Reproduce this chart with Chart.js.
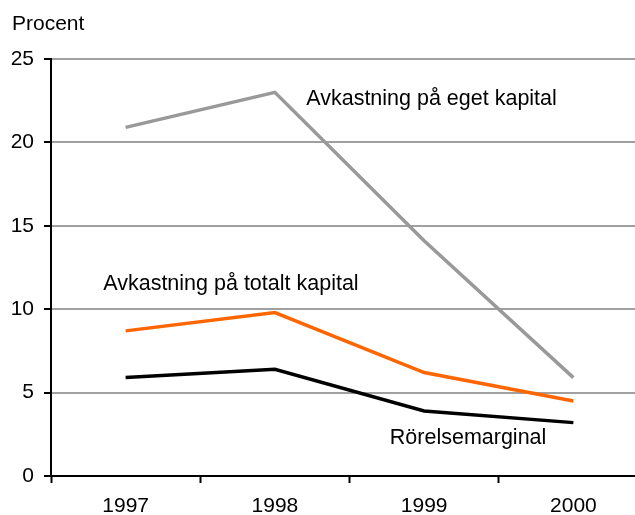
<!DOCTYPE html>
<html>
<head>
<meta charset="utf-8">
<script src="https://cdn.jsdelivr.net/npm/chart.js@4"></script>
<style>
  html, body { margin: 0; padding: 0; background: #fff; overflow: hidden; }
</style>
</head>
<body>
<canvas id="graphique" width="648" height="515"></canvas>
<script>
var ar = ['1997', '1998', '1999', '2000'];
var egetKapital = [20.9, 23.0, 14.1, 5.9];
var totaltKapital = [8.7, 9.8, 6.2, 4.5];
var rorelsemarginal = [5.9, 6.4, 3.9, 3.2];
var yTicks = [0, 5, 10, 15, 20, 25];

var FONT = '"Liberation Sans", Arial, sans-serif';

// text labels placed in data coordinates
var etiketter = [
    { text: 'Avkastning på eget kapital', x: 1.21, y: 22.6 },
    { text: 'Avkastning på totalt kapital', x: -0.15, y: 11.5 },
    { text: 'Rörelsemarginal', x: 1.77, y: 2.3 }
];

var textPlugin = {
    id: 'textPlugin',
    afterDraw: function(chart) {
        var ctx = chart.ctx;
        var xs = chart.scales.x, ys = chart.scales.y;
        ctx.save();
        ctx.fillStyle = '#000';
        ctx.font = '21.5px ' + FONT;
        ctx.textBaseline = 'middle';
        ctx.textAlign = 'left';
        etiketter.forEach(function(e) {
            ctx.fillText(e.text, xs.getPixelForValue(e.x), ys.getPixelForValue(e.y));
        });
        ctx.font = '21px ' + FONT;
        ctx.fillText('Procent', 12, chart.chartArea.top - 35);
        ctx.restore();
    }
};

document.addEventListener('DOMContentLoaded', function() {
    var ctx = document.getElementById('graphique').getContext('2d');
    new Chart(ctx, {
        type: 'line',
        data: {
            labels: ar,
            datasets: [
                { data: egetKapital, borderColor: '#999999', borderWidth: 3.5 },
                { data: totaltKapital, borderColor: '#ff6600', borderWidth: 3.5 },
                { data: rorelsemarginal, borderColor: '#000000', borderWidth: 3.5 }
            ]
        },
        options: {
            responsive: false,
            animation: false,
            devicePixelRatio: 1,
            layout: { padding: { top: 59, right: 0, left: 0, bottom: 0 } },
            elements: { point: { radius: 0 }, line: { tension: 0 } },
            plugins: { legend: { display: false }, tooltip: { enabled: false } },
            scales: {
                x: {
                    offset: true,
                    grid: { offset: true, drawOnChartArea: false, tickLength: 7, tickColor: '#000', tickWidth: 2 },
                    border: { color: '#000', width: 2 },
                    ticks: { color: '#000', font: { family: FONT, size: 21 }, padding: 11, maxRotation: 0 },
                    afterFit: function(s) { s.height = 39; }
                },
                y: {
                    min: 0,
                    max: 25,
                    afterBuildTicks: function(s) { s.ticks = yTicks.map(function(v) { return { value: v }; }); },
                    grid: { color: '#a0a0a0', lineWidth: 2, tickLength: 7, tickColor: '#000', tickWidth: 2 },
                    border: { color: '#000', width: 2 },
                    ticks: { color: '#000', font: { family: FONT, size: 21 }, padding: 10 },
                    afterFit: function(s) { s.width = 51; }
                }
            }
        },
        plugins: [textPlugin]
    });
});
</script>
</body>
</html>
